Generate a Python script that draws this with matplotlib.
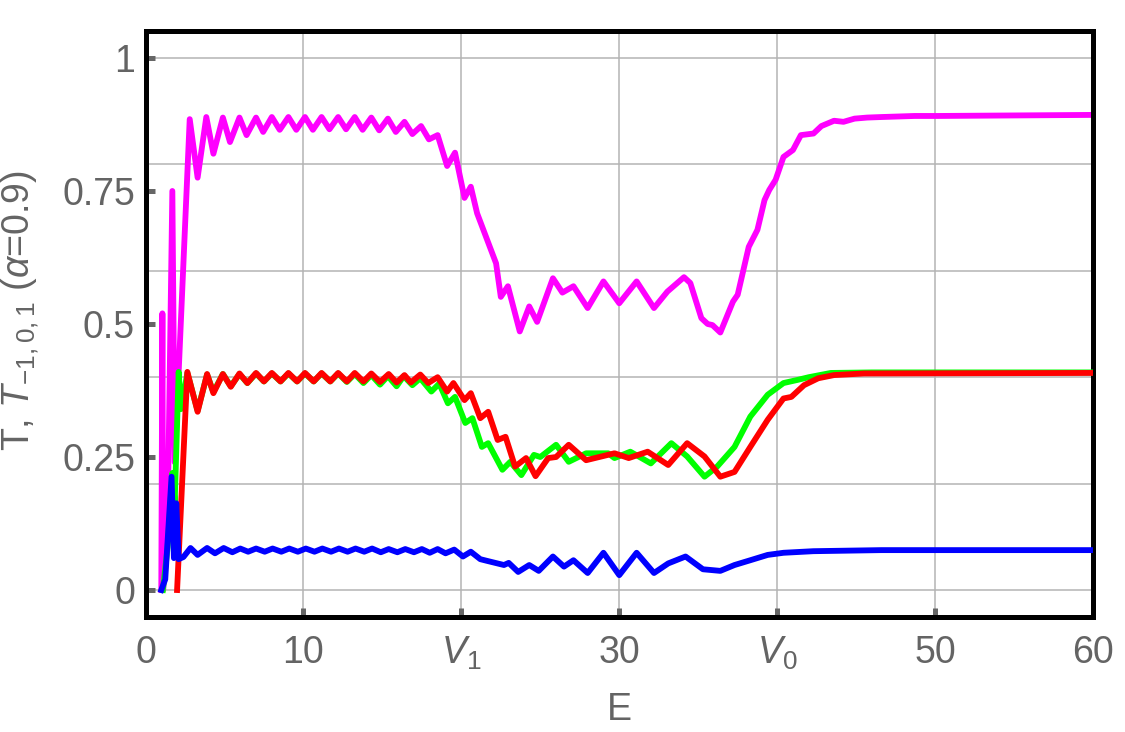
import matplotlib
matplotlib.use("Agg")
import matplotlib.pyplot as plt

# ---- data (E, T) ----
magenta_E = [1.00, 1.07, 1.12, 1.45, 1.70, 1.85, 2.80, 3.30, 3.85, 4.30, 4.90, 5.35,
             5.95, 6.40, 7.00, 7.45, 8.00, 8.50, 9.05, 9.55, 10.1, 10.6, 11.15, 11.65,
             12.2, 12.7, 13.25, 13.75, 14.3, 14.8, 15.35, 15.85, 16.4, 16.9, 17.45, 17.95,
             18.5, 19.1, 19.6, 20.2, 20.6, 21.0, 22.2, 22.5, 22.95, 23.7, 24.3, 24.8,
             25.8, 26.4, 27.1, 28.0, 29.0, 30.0, 31.1, 32.2, 33.05, 34.1, 34.5, 35.2,
             35.6, 35.9, 36.4, 37.2, 37.5, 38.2, 38.75, 39.2, 39.5, 39.9, 40.4, 41.0,
             41.5, 42.3, 42.8, 43.6, 44.2, 44.9, 45.7, 46.6, 48.7, 50.2, 60.0]
magenta_T = [0.00, 0.52, 0.00, 0.23, 0.75, 0.24, 0.885, 0.775, 0.889, 0.82, 0.888, 0.842,
             0.888, 0.855, 0.888, 0.861, 0.889, 0.865, 0.889, 0.865, 0.889, 0.865, 0.889, 0.866,
             0.889, 0.866, 0.889, 0.865, 0.888, 0.864, 0.886, 0.861, 0.880, 0.857, 0.872, 0.847,
             0.855, 0.797, 0.822, 0.737, 0.758, 0.708, 0.614, 0.551, 0.571, 0.486, 0.533, 0.504,
             0.586, 0.559, 0.571, 0.530, 0.580, 0.539, 0.580, 0.530, 0.561, 0.588, 0.577, 0.511,
             0.500, 0.498, 0.484, 0.542, 0.555, 0.645, 0.677, 0.733, 0.752, 0.771, 0.814, 0.827,
             0.855, 0.858, 0.872, 0.882, 0.880, 0.886, 0.888, 0.889, 0.891, 0.891, 0.893]

green_E = [1.10, 1.40, 1.70, 1.85, 2.10, 2.25, 2.65, 3.30, 3.90, 4.30, 4.90, 5.40,
           5.95, 6.45, 7.00, 7.50, 8.00, 8.55, 9.05, 9.60, 10.1, 10.65, 11.15, 11.7,
           12.2, 12.75, 13.25, 13.8, 14.3, 14.85, 15.35, 15.9, 16.35, 16.9, 17.4, 18.1,
           18.6, 19.15, 19.6, 20.25, 20.7, 21.3, 21.7, 22.6, 23.1, 23.8, 24.6, 25.0,
           26.0, 26.8, 27.9, 29.3, 29.7, 30.7, 32.0, 33.3, 34.3, 35.4, 36.2, 37.3,
           38.3, 39.4, 40.4, 41.3, 42.0, 43.4, 46.0, 60.0]
green_T = [0.00, 0.08, 0.22, 0.165, 0.41, 0.34, 0.408, 0.337, 0.405, 0.372, 0.406, 0.383,
           0.406, 0.389, 0.407, 0.392, 0.407, 0.392, 0.407, 0.392, 0.407, 0.392, 0.407, 0.392,
           0.407, 0.391, 0.406, 0.389, 0.404, 0.386, 0.402, 0.383, 0.402, 0.385, 0.398, 0.373,
           0.388, 0.351, 0.363, 0.314, 0.323, 0.269, 0.276, 0.226, 0.241, 0.216, 0.254, 0.250,
           0.273, 0.241, 0.257, 0.257, 0.248, 0.260, 0.238, 0.276, 0.251, 0.213, 0.232, 0.269,
           0.326, 0.367, 0.389, 0.395, 0.400, 0.408, 0.409, 0.409]

red_E = [2.00, 2.65, 3.30, 3.90, 4.30, 4.90, 5.40, 5.95, 6.45, 7.00, 7.50, 8.00,
         8.55, 9.05, 9.60, 10.1, 10.65, 11.15, 11.7, 12.2, 12.75, 13.25, 13.8, 14.3,
         14.85, 15.4, 15.9, 16.4, 16.8, 17.4, 17.9, 18.5, 19.1, 19.5, 20.2, 20.6,
         21.2, 21.7, 22.3, 22.8, 23.4, 24.1, 24.7, 25.5, 26.0, 26.8, 27.9, 29.7,
         30.6, 31.8, 33.1, 34.3, 35.4, 36.4, 37.3, 38.3, 39.4, 40.4, 40.9, 41.7,
         42.6, 43.6, 45.5, 60.0]
red_T = [0.00, 0.410, 0.335, 0.406, 0.370, 0.406, 0.382, 0.407, 0.389, 0.408, 0.392, 0.408,
         0.392, 0.408, 0.392, 0.408, 0.392, 0.408, 0.392, 0.408, 0.392, 0.408, 0.392, 0.407,
         0.391, 0.406, 0.390, 0.404, 0.390, 0.405, 0.389, 0.400, 0.373, 0.389, 0.357, 0.370,
         0.323, 0.335, 0.282, 0.288, 0.232, 0.248, 0.214, 0.248, 0.250, 0.273, 0.244, 0.257,
         0.248, 0.260, 0.235, 0.276, 0.251, 0.213, 0.222, 0.269, 0.320, 0.360, 0.363, 0.385,
         0.398, 0.404, 0.407, 0.408]

blue_E = [1.00, 1.25, 1.65, 1.80, 1.95, 2.10, 2.40, 2.85, 3.30, 3.90, 4.40, 4.95,
          5.50, 6.00, 6.50, 7.00, 7.55, 8.05, 8.60, 9.10, 9.65, 10.15, 10.7, 11.2,
          11.75, 12.25, 12.8, 13.3, 13.85, 14.35, 14.9, 15.4, 15.95, 16.45, 17.0, 17.5,
          18.0, 18.5, 19.0, 19.55, 20.1, 20.6, 21.2, 21.6, 22.7, 23.0, 23.6, 24.3,
          24.9, 25.8, 26.5, 27.1, 28.0, 29.0, 30.0, 31.1, 32.2, 33.1, 34.2, 35.3,
          36.4, 37.3, 38.3, 39.4, 40.4, 42.3, 46.6, 60.0]
blue_T = [0.00, 0.02, 0.213, 0.06, 0.163, 0.058, 0.062, 0.079, 0.066, 0.079, 0.069, 0.079,
          0.071, 0.078, 0.072, 0.078, 0.072, 0.078, 0.072, 0.078, 0.072, 0.078, 0.072, 0.078,
          0.072, 0.078, 0.072, 0.078, 0.072, 0.078, 0.071, 0.077, 0.071, 0.077, 0.071, 0.077,
          0.070, 0.077, 0.069, 0.076, 0.063, 0.072, 0.058, 0.055, 0.047, 0.051, 0.034, 0.047,
          0.036, 0.063, 0.044, 0.056, 0.032, 0.070, 0.028, 0.070, 0.032, 0.050, 0.063, 0.039,
          0.036, 0.047, 0.056, 0.066, 0.070, 0.073, 0.075, 0.075]

x_ticks = [0, 10, 20, 30, 40, 50, 60]
x_tick_labels = ["0", "10", "$V_1$", "30", "$V_0$", "50", "60"]
y_ticks = [0, 0.25, 0.5, 0.75, 1]
y_tick_labels = ["0", "0.25", "0.5", "0.75", "1"]
y_grid = [0, 0.2, 0.4, 0.6, 0.8, 1.0]

text_gray = "#646464"
fs = 27
plt.rcParams["font.family"] = ["Liberation Sans", "DejaVu Sans"]
plt.rcParams["mathtext.fontset"] = "custom"
plt.rcParams["mathtext.rm"] = "Liberation Sans"
plt.rcParams["mathtext.it"] = "Liberation Sans:italic"
plt.rcParams["mathtext.sf"] = "Liberation Sans"

fig = plt.figure(figsize=(11.25, 7.32), dpi=100)
ax = fig.add_axes([145.5 / 1125, (732 - 617) / 732, (1093 - 145.5) / 1125, (617 - 31) / 732])

# grid
for gx in x_ticks:
    ax.axvline(gx, color="#b4b4b4", lw=1.1, zorder=0)
for gy in y_grid:
    ax.axhline(gy, color="#b4b4b4", lw=1.1, zorder=0)

lw = 4.2
ax.plot(magenta_E, magenta_T, color="#ff00ff", lw=lw, solid_joinstyle="round", zorder=2)
ax.plot(green_E, green_T, color="#00ff00", lw=lw, solid_joinstyle="round", zorder=3)
ax.plot(red_E, red_T, color="#ff0000", lw=lw, solid_joinstyle="round", zorder=4)
ax.plot(blue_E, blue_T, color="#0000ff", lw=lw, solid_joinstyle="round", zorder=5)

ax.set_xlim(0, 60)
ax.set_ylim(-0.0507, 1.0507)

ax.set_xticks(x_ticks)
ax.set_xticklabels(x_tick_labels)
ax.set_yticks(y_ticks)
ax.set_yticklabels(y_tick_labels)
ax.tick_params(direction="in", length=6.5, width=3.6, color="#666666",
               labelsize=fs, labelcolor=text_gray)
ax.tick_params(axis="x", pad=13)
ax.tick_params(axis="y", pad=7.5)

for s in ax.spines.values():
    s.set_linewidth(3.6)
    s.set_color("black")

ax.set_xlabel("E", fontsize=fs, color=text_gray, labelpad=14)
ax.set_ylabel("T, $T_{-1,0,1}$ ($\\alpha$=0.9)", fontsize=fs, color=text_gray)
ax.yaxis.set_label_coords(-0.110, 0.522)

fig.savefig("out.png", dpi=100)
